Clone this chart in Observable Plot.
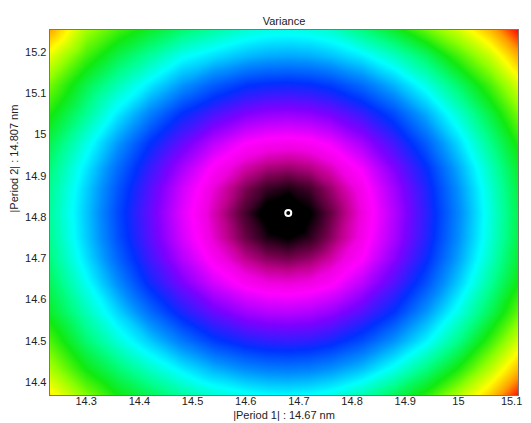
<!DOCTYPE html>
<html><head><meta charset="utf-8">
<script src="https://cdn.jsdelivr.net/npm/d3@7"></script>
<script src="https://cdn.jsdelivr.net/npm/@observablehq/plot@0.6"></script>
<style>body{margin:0;background:#fff}</style>
</head><body><div id="chart"></div>
<script>
const title = "Variance";
const xLabel = "|Period 1| : 14.67 nm";
const yLabel = "|Period 2| : 14.807 nm";
const xDomain = [14.231, 15.113];
const yDomain = [14.368, 15.255];
const xTicks = [14.3, 14.4, 14.5, 14.6, 14.7, 14.8, 14.9, 15, 15.1];
const yTicks = [14.4, 14.5, 14.6, 14.7, 14.8, 14.9, 15, 15.1, 15.2];

// sample grid (levels), rows from bottom to top
const gridX = [14.231, 14.3, 14.36, 14.42, 14.48, 14.54, 14.6, 14.64, 14.68, 14.72, 14.76, 14.82, 14.88, 14.94, 15.0, 15.06, 15.113];
const gridY = [14.368, 14.43, 14.5, 14.57, 14.64, 14.7, 14.75, 14.81, 14.87, 14.92, 14.98, 15.05, 15.12, 15.19, 15.255];
const variance = [
  [5.10, 4.45, 4.00, 3.70, 3.42, 3.20, 3.07, 3.01, 2.99, 3.02, 3.10, 3.35, 3.70, 4.10, 4.65, 5.25, 5.95],
  [4.65, 4.00, 3.60, 3.25, 2.94, 2.67, 2.49, 2.42, 2.40, 2.43, 2.52, 2.74, 3.10, 3.55, 4.05, 4.70, 5.35],
  [4.25, 3.60, 3.15, 2.77, 2.38, 2.06, 1.88, 1.81, 1.79, 1.82, 1.91, 2.15, 2.52, 2.96, 3.49, 4.15, 4.80],
  [3.90, 3.30, 2.81, 2.31, 1.89, 1.59, 1.37, 1.29, 1.27, 1.31, 1.41, 1.67, 2.02, 2.53, 3.09, 3.70, 4.32],
  [3.70, 3.05, 2.48, 1.94, 1.53, 1.17, 0.93, 0.85, 0.83, 0.86, 0.96, 1.27, 1.68, 2.17, 2.77, 3.42, 4.01],
  [3.55, 2.87, 2.27, 1.75, 1.30, 0.92, 0.67, 0.56, 0.52, 0.58, 0.72, 1.00, 1.46, 1.96, 2.58, 3.25, 3.86],
  [3.47, 2.78, 2.16, 1.65, 1.17, 0.80, 0.50, 0.34, 0.27, 0.37, 0.56, 0.89, 1.34, 1.86, 2.49, 3.16, 3.78],
  [3.42, 2.75, 2.12, 1.61, 1.12, 0.75, 0.42, 0.20, 0.03, 0.26, 0.49, 0.85, 1.30, 1.83, 2.45, 3.13, 3.75],
  [3.47, 2.80, 2.19, 1.67, 1.19, 0.82, 0.54, 0.40, 0.34, 0.42, 0.60, 0.91, 1.37, 1.88, 2.51, 3.18, 3.80],
  [3.57, 2.91, 2.31, 1.79, 1.35, 0.96, 0.73, 0.63, 0.60, 0.65, 0.77, 1.05, 1.51, 1.99, 2.62, 3.28, 3.89],
  [3.75, 3.11, 2.54, 2.01, 1.61, 1.26, 1.00, 0.93, 0.91, 0.94, 1.05, 1.36, 1.75, 2.24, 2.84, 3.48, 4.07],
  [4.05, 3.45, 2.91, 2.42, 1.99, 1.71, 1.50, 1.42, 1.40, 1.44, 1.54, 1.78, 2.14, 2.63, 3.18, 3.79, 4.41],
  [4.40, 3.75, 3.30, 2.91, 2.53, 2.23, 2.02, 1.96, 1.94, 1.97, 2.06, 2.31, 2.67, 3.10, 3.62, 4.21, 4.83],
  [4.90, 4.20, 3.75, 3.40, 3.05, 2.86, 2.69, 2.62, 2.60, 2.63, 2.72, 2.93, 3.25, 3.65, 4.20, 4.75, 5.39],
  [5.45, 4.60, 4.20, 3.90, 3.62, 3.40, 3.20, 3.12, 3.10, 3.13, 3.22, 3.55, 3.90, 4.35, 4.80, 5.35, 6.00]
];
const minimumX = [14.68];
const minimumY = [14.81];

const levelStops  = [0, 0.28, 0.5, 0.67, 0.84, 1, 1.5, 2, 2.5, 3, 3.5, 4, 4.5, 5, 5.5, 6];
const levelColors = ["#000000", "#000000", "#6a0045", "#be008c", "#f000e0", "#ff00ff", "#8000ff", "#0030ff",
                     "#0090ff", "#00ffff", "#00ff88", "#10ea10", "#90ff00", "#ffff00", "#ff9900", "#ff0000"];

const samples = [];
variance.forEach((row, i) => row.forEach((v, j) => samples.push({x: gridX[j], y: gridY[i], v})));

const chart = Plot.plot({
  width: 531,
  height: 423,
  marginLeft: 49,
  marginRight: 13,
  marginTop: 29,
  marginBottom: 28,
  style: {fontFamily: "'Liberation Sans', Arial, sans-serif", fontSize: "11px", color: "#222", background: "#fff"},
  x: {domain: xDomain, ticks: xTicks, tickFormat: String, tickSize: 0, tickPadding: 2, label: null},
  y: {domain: yDomain, ticks: yTicks, tickFormat: String, tickSize: 0, tickPadding: 3, label: null},
  color: {type: "linear", domain: levelStops, range: levelColors, interpolate: "rgb", clamp: true},
  marks: [
    Plot.raster(samples, {x: "x", y: "y", fill: "v", interpolate: "barycentric", pixelSize: 1}),
    Plot.frame({stroke: "#777", strokeWidth: 1}),
    Plot.dot({length: 1}, {x: minimumX, y: minimumY, r: 3, stroke: "#fff", strokeWidth: 2, fill: "none"}),
    Plot.text([title], {frameAnchor: "top", dy: -12, fontSize: 11, fill: "#222"}),
    Plot.text([xLabel], {frameAnchor: "bottom", dy: 23, fontSize: 11, fill: "#222"}),
    Plot.text([yLabel], {frameAnchor: "left", rotate: -90, dx: -35, fontSize: 11, fill: "#222"})
  ]
});
document.getElementById("chart").appendChild(chart);
</script>
</body></html>
